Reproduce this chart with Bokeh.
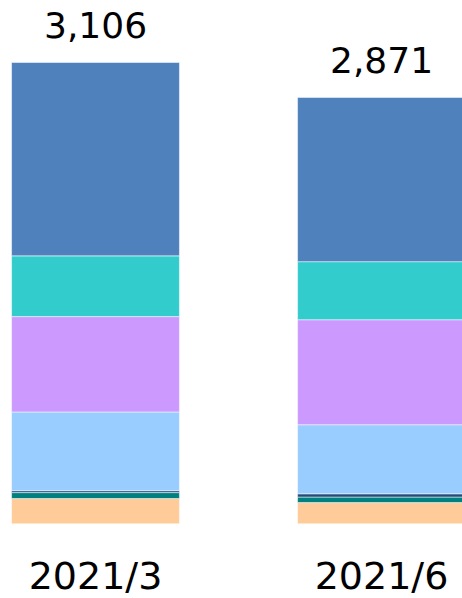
from bokeh.plotting import figure
from bokeh.models import ColumnDataSource, Range1d
from bokeh.core.properties import value
from bokeh.embed import file_html
from bokeh.resources import INLINE

categories = ["2021/3", "2021/6"]
series_names = ["s7", "s6", "s5", "s4", "s3", "s2", "s1"]  # bottom to top
series_colors = ["#ffcc99", "#008080", "#254b7d", "#99ccff", "#cc99ff", "#33cccc", "#4f81bd"]
s7 = [170, 143]
s6 = [40, 37]
s5 = [13, 22]
s4 = [530, 465]
s3 = [642, 707]
s2 = [409, 391]
s1 = [1302, 1106]
totals = [3106, 2871]
total_labels = ["3,106", "2,871"]

xs = list(range(len(categories)))
data = {"x": xs}
for name, vals in zip(series_names, [s7, s6, s5, s4, s3, s2, s1]):
    data[name] = vals
source = ColumnDataSource(data)

p = figure(width=462, height=598, output_backend="svg", toolbar_location=None,
           x_range=Range1d(-0.3322, 1.2832), y_range=Range1d(-503, 3523.4),
           min_border_left=0, min_border_right=0, min_border_top=0, min_border_bottom=0)
p.vbar_stack(series_names, x="x", width=0.587, color=series_colors, source=source,
             line_color="white", line_width=1, line_alpha=0.5)

lsrc = ColumnDataSource(dict(x=xs, y=totals, t=total_labels))
p.text(x="x", y="y", text="t", source=lsrc, text_align="center", text_baseline="alphabetic",
       y_offset=-37, text_font=value("DejaVu Sans"), text_font_size="36px", text_color="#000000")

csrc = ColumnDataSource(dict(x=xs, y=[0] * len(xs), t=categories))
p.text(x="x", y="y", text="t", source=csrc, text_align="center", text_baseline="alphabetic",
       y_offset=52, text_font=value("DejaVu Sans"), text_font_size="38px", text_color="#000000")

p.xaxis.visible = False
p.yaxis.visible = False
p.xgrid.visible = False
p.ygrid.visible = False
p.outline_line_color = None
p.background_fill_color = "white"
p.border_fill_color = "white"

open("out.html", "w").write(file_html(p, INLINE))
